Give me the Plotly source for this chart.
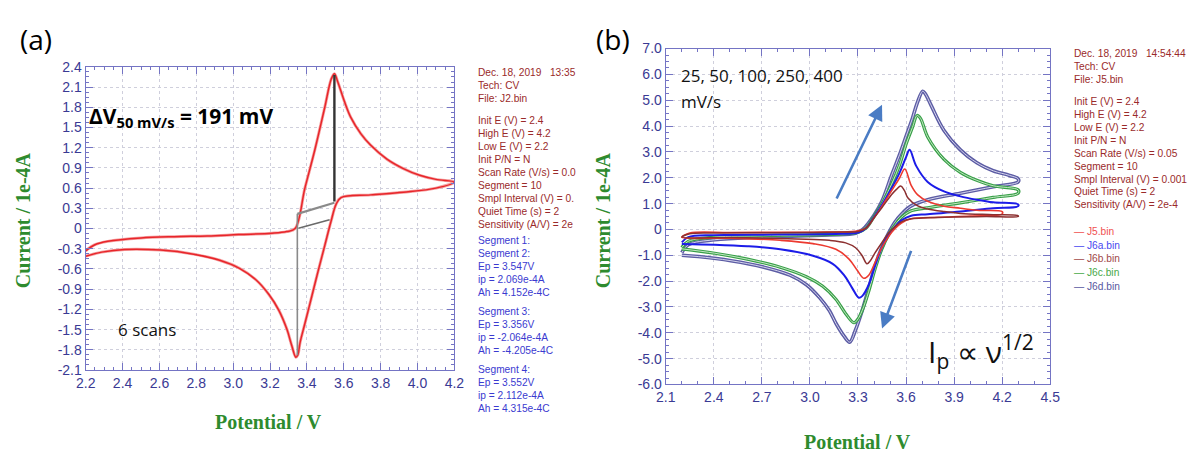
import plotly.graph_objects as go

W, H = 1190, 462

# ---------------- data: panel (a) ----------------
cv_a_v = [2.2, 2.25, 2.32, 2.5, 2.68, 2.86, 3.03, 3.21, 3.29, 3.336, 3.389, 3.443, 3.496, 3.532, 3.549,
          3.567, 3.603, 3.638, 3.692, 3.745, 3.834, 3.923, 4.012, 4.1, 4.2,
          4.1, 3.923, 3.745, 3.585, 3.558, 3.532, 3.496, 3.46, 3.425, 3.389, 3.363, 3.35, 3.34, 3.318,
          3.292, 3.247, 3.194, 3.123, 3.034, 2.927, 2.785, 2.607, 2.412, 2.287, 2.2]
cv_a_i = [-0.33, -0.24, -0.19, -0.14, -0.12, -0.11, -0.09, -0.07, -0.045, 0.0, 0.60, 1.17, 1.79, 2.22, 2.30,
          2.18, 1.89, 1.65, 1.41, 1.24, 1.03, 0.89, 0.79, 0.73, 0.69,
          0.60, 0.54, 0.50, 0.46, 0.36, 0.12, -0.26, -0.64, -1.02, -1.41, -1.69, -1.88, -1.91, -1.74,
          -1.50, -1.21, -0.98, -0.76, -0.59, -0.47, -0.38, -0.32, -0.31, -0.35, -0.41]

base_upper_v = [3.348, 3.549]
base_upper_i = [0.218, 0.384]
base_lower_v = [3.354, 3.523]
base_lower_i = [0.003, 0.132]
peak_ox_v = [3.549, 3.549]
peak_ox_i = [0.40, 2.28]
peak_red_v = [3.348, 3.348]
peak_red_i = [0.218, -1.88]

a_xticks = [2.2, 2.4, 2.6, 2.8, 3.0, 3.2, 3.4, 3.6, 3.8, 4.0, 4.2]
a_xtext = ["2.2", "2.4", "2.6", "2.8", "3.0", "3.2", "3.4", "3.6", "3.8", "4.0", "4.2"]
a_yticks = [2.4, 2.1, 1.8, 1.5, 1.2, 0.9, 0.6, 0.3, 0, -0.3, -0.6, -0.9, -1.2, -1.5, -1.8, -2.1]
a_ytext = ["2.4", "2.1", "1.8", "1.5", "1.2", "0.9", "0.6", "0.3", "0", "-0.3", "-0.6", "-0.9",
           "-1.2", "-1.5", "-1.8", "-2.1"]

# ---------------- data: panel (b) ----------------
j6b_v = [2.2, 2.25, 2.4, 2.7, 3.0, 3.2, 3.3, 3.35, 3.4, 3.45, 3.51, 3.54, 3.567, 3.59, 3.612, 3.673, 3.735,
         3.837, 3.94, 4.144, 4.3,
         4.3, 4.1, 3.9, 3.735, 3.632, 3.571, 3.53, 3.49, 3.448, 3.407, 3.377, 3.356, 3.326, 3.285, 3.223,
         3.121, 2.916, 2.507, 2.2]
j6b_i = [-0.3, -0.17, -0.14, -0.13, -0.12, -0.1, -0.08, 0.05, 0.45, 0.85, 1.35, 1.55, 1.68, 1.5, 1.22, 0.91,
         0.79, 0.69, 0.62, 0.57, 0.53,
         0.5, 0.5, 0.48, 0.45, 0.41, 0.29, 0.1, -0.15, -0.52, -0.9, -1.21, -1.33, -1.02, -0.71, -0.52,
         -0.42, -0.37, -0.31, -0.3]

j5_v = [2.2, 2.25, 2.5, 2.8, 3.1, 3.28, 3.35, 3.4, 3.45, 3.51, 3.56, 3.592, 3.632, 3.673, 3.735, 3.837,
        3.939, 4.042, 4.2,
        4.2, 4.0, 3.8, 3.632, 3.571, 3.53, 3.49, 3.448, 3.407, 3.367, 3.336, 3.295, 3.244, 3.162, 3.019,
        2.814, 2.507, 2.2]
j5_i = [-0.3, -0.14, -0.12, -0.11, -0.1, -0.07, 0.05, 0.45, 0.9, 1.5, 2.0, 2.34, 1.71, 1.34, 1.09, 0.9,
        0.82, 0.74, 0.69,
        0.6, 0.52, 0.47, 0.41, 0.25, 0.03, -0.28, -0.71, -1.27, -1.77, -1.89, -1.58, -1.15, -0.77, -0.55,
        -0.42, -0.34, -0.3]

j6a_v = [2.2, 2.24, 2.4, 2.8, 3.2, 3.3, 3.35, 3.4, 3.45, 3.51, 3.56, 3.6, 3.622, 3.663, 3.735, 3.837,
         3.939, 4.042, 4.144, 4.3,
         4.3, 4.144, 3.939, 3.735, 3.632, 3.571, 3.53, 3.49, 3.448, 3.407, 3.367, 3.326, 3.305, 3.264,
         3.213, 3.142, 3.019, 2.814, 2.609, 2.405, 2.2]
j6a_i = [-0.5, -0.3, -0.22, -0.2, -0.17, -0.12, 0.05, 0.48, 0.95, 1.6, 2.2, 2.8, 3.08, 2.46, 1.84, 1.47,
         1.28, 1.15, 1.05, 0.97,
         0.9, 0.82, 0.69, 0.59, 0.53, 0.35, 0.1, -0.21, -0.71, -1.4, -2.14, -2.58, -2.64, -2.27,
         -1.77, -1.33, -1.02, -0.77, -0.65, -0.59, -0.56]

j6c_v = [2.2, 2.24, 2.405, 2.712, 3.121, 3.3, 3.35, 3.4, 3.45, 3.51, 3.56, 3.6, 3.64, 3.669, 3.69,
         3.735, 3.837, 3.939, 4.042, 4.144, 4.3,
         4.3, 4.144, 3.939, 3.735, 3.632, 3.571, 3.53, 3.49, 3.448, 3.407, 3.367, 3.326, 3.295, 3.274,
         3.223, 3.162, 3.08, 2.978, 2.814, 2.609, 2.405, 2.2]
j6c_i = [-0.7, -0.46, -0.30, -0.24, -0.19, -0.11, 0.05, 0.5, 1.0, 1.75, 2.5, 3.3, 3.95, 4.41, 4.3,
         3.58, 2.71, 2.21, 1.9, 1.69, 1.53,
         1.4, 1.24, 1.03, 0.84, 0.72, 0.47, 0.16, -0.21, -0.77, -1.52, -2.39, -3.14, -3.51, -3.61,
         -3.26, -2.7, -2.2, -1.83, -1.46, -1.15, -0.92, -0.75]

j6d_v = [2.2, 2.241, 2.405, 2.712, 3.121, 3.285, 3.33, 3.4, 3.45, 3.51, 3.56, 3.6, 3.64, 3.67, 3.704,
         3.72, 3.755, 3.837, 3.939, 4.042, 4.144, 4.246, 4.3,
         4.3, 4.144, 3.939, 3.735, 3.632, 3.571, 3.53, 3.49, 3.448, 3.407, 3.367, 3.326, 3.285, 3.248,
         3.213, 3.162, 3.121, 3.06, 2.978, 2.875, 2.712, 2.507, 2.303, 2.2]
j6d_i = [-0.9, -0.59, -0.40, -0.30, -0.21, -0.15, 0.0, 0.55, 1.1, 2.1, 2.9, 3.6, 4.3, 4.9, 5.35,
         5.25, 4.82, 3.83, 3.08, 2.58, 2.27, 2.09, 1.96,
         1.84, 1.65, 1.40, 1.15, 0.91, 0.59, 0.28, -0.15, -0.71, -1.40, -2.27, -3.14, -3.88, -4.36,
         -4.13, -3.63, -3.14, -2.64, -2.14, -1.77, -1.46, -1.21, -1.05, -1.0]

b_xticks = [2.1, 2.4, 2.7, 3.0, 3.3, 3.6, 3.9, 4.2, 4.5]
b_xtext = ["2.1", "2.4", "2.7", "3.0", "3.3", "3.6", "3.9", "4.2", "4.5"]
b_yticks = [7, 6, 5, 4, 3, 2, 1, 0, -1, -2, -3, -4, -5, -6]
b_ytext = ["7.0", "6.0", "5.0", "4.0", "3.0", "2.0", "1.0", "0", "-1.0", "-2.0", "-3.0", "-4.0",
           "-5.0", "-6.0"]

info_a_red = ["Dec. 18, 2019   13:35", "Tech: CV", "File: J2.bin", "", "Init E (V) = 2.4", "High E (V) = 4.2",
              "Low E (V) = 2.2", "Init P/N = N", "Scan Rate (V/s) = 0.0", "Segment = 10",
              "Smpl Interval (V) = 0.", "Quiet Time (s) = 2", "Sensitivity (A/V) = 2e"]
info_a_blue = [["Segment 1:", "Segment 2:", "Ep = 3.547V", "ip = 2.069e-4A", "Ah = 4.152e-4C"],
               ["Segment 3:", "Ep = 3.356V", "ip = -2.064e-4A", "Ah = -4.205e-4C"],
               ["Segment 4:", "Ep = 3.552V", "ip = 2.112e-4A", "Ah = 4.315e-4C"]]
info_b_red = ["Dec. 18, 2019   14:54:44", "Tech: CV", "File: J5.bin", "", "Init E (V) = 2.4", "High E (V) = 4.2",
              "Low E (V) = 2.2", "Init P/N = N", "Scan Rate (V/s) = 0.05", "Segment = 10",
              "Smpl Interval (V) = 0.001", "Quiet Time (s) = 2", "Sensitivity (A/V) = 2e-4"]
legend_names = ["J5.bin", "J6a.bin", "J6b.bin", "J6c.bin", "J6d.bin"]
legend_colors = ["#f05050", "#4848f0", "#a04848", "#48a848", "#5858a0"]

# ---------------- figure ----------------
fig = go.Figure()

RED = "#e8252a"
fig.add_trace(go.Scatter(x=cv_a_v, y=cv_a_i, mode="lines", line=dict(color="#f4a0a0", width=3.0, shape="spline"),
                         xaxis="x", yaxis="y", showlegend=False, hoverinfo="skip"))
fig.add_trace(go.Scatter(x=cv_a_v, y=cv_a_i, mode="lines", line=dict(color=RED, width=1.5, shape="spline"),
                         xaxis="x", yaxis="y", showlegend=False))
for vv, ii, col, wd in [(base_upper_v, base_upper_i, "#8a8a8a", 2.2), (base_lower_v, base_lower_i, "#6a6a6a", 1.6),
                        (peak_ox_v, peak_ox_i, "#333333", 2.4), (peak_red_v, peak_red_i, "#8a8a8a", 1.6)]:
    fig.add_trace(go.Scatter(x=vv, y=ii, mode="lines", line=dict(color=col, width=wd),
                             xaxis="x", yaxis="y", showlegend=False))

curves_b = [
    (j6d_v, j6d_i, "#5c5ca4", 3.6, "#d4d4ec"),
    (j6c_v, j6c_i, "#38a048", 3.2, "#c4e6c4"),
    (j6a_v, j6a_i, "#1c1ce8", 2.0, None),
    (j5_v, j5_i, "#ec3a30", 1.6, None),
    (j6b_v, j6b_i, "#8c3030", 1.5, None),
]
for vv, ii, col, wd, inner in curves_b:
    fig.add_trace(go.Scatter(x=vv, y=ii, mode="lines", line=dict(color=col, width=wd, shape="spline"),
                             xaxis="x2", yaxis="y2", showlegend=False))
    if inner:
        fig.add_trace(go.Scatter(x=vv, y=ii, mode="lines", line=dict(color=inner, width=1.0, shape="spline"),
                                 xaxis="x2", yaxis="y2", showlegend=False, hoverinfo="skip"))

AXC = "#7474c4"
TICKF = dict(family="Liberation Sans Narrow, Arial Narrow, Liberation Sans, Arial", size=14, color="#3a3a94")


def ax(domain, rng, tv, tt, minor_dtick, minor_t0, anchor):
    return dict(domain=domain, range=rng, anchor=anchor, tickmode="array", tickvals=tv, ticktext=tt,
                showline=True, linecolor=AXC, linewidth=1.3, mirror="ticks", ticks="inside", ticklen=7,
                tickcolor=AXC, tickwidth=1, showgrid=True, gridcolor="#cfcfdc", griddash="dot",
                gridwidth=1, zeroline=False, tickfont=TICKF,
                minor=dict(ticks="inside", ticklen=3, tickcolor=AXC, dtick=minor_dtick, tick0=minor_t0,
                           showgrid=False))


fig.update_layout(
    width=W, height=H, margin=dict(l=0, r=0, t=0, b=0), paper_bgcolor="white", plot_bgcolor="white",
    xaxis=ax([77 / W, 452 / W], [2.2, 4.2], a_xticks, a_xtext, 0.05, 2.2, "y"),
    yaxis=ax([1 - 375 / H, 1 - 61 / H], [-2.1, 2.4], a_yticks, a_ytext, 0.075, -2.1, "x"),
    xaxis2=ax([667 / W, 1058 / W], [2.1, 4.5], b_xticks, b_xtext, 0.1, 2.1, "y2"),
    yaxis2=ax([1 - 390 / H, 1 - 42 / H], [-6, 7], b_yticks, b_ytext, 0.25, -6, "x2"),
)

ann = []


def txt(px, py, s, size, color="black", family="Open Sans, Noto Sans", xanchor="left", angle=0):
    ann.append(dict(xref="paper", yref="paper", x=px / W, y=1 - py / H, text=s, showarrow=False,
                    xanchor=xanchor, yanchor="middle", textangle=angle,
                    font=dict(size=size, color=color, family=family)))


TITLEF = "Liberation Serif, Times New Roman, serif"
GREEN = "#2e8b2e"
txt(8, 32, "(a)", 28)
txt(594, 32, "(b)", 28)
txt(14, 220, "<b>Current / 1e-4A</b>", 20, GREEN, TITLEF, "center", -90)
txt(263, 429, "<b>Potential / V</b>", 20, GREEN, TITLEF, "center")
txt(604, 220, "<b>Current / 1e-4A</b>", 20, GREEN, TITLEF, "center", -90)
txt(862, 450, "<b>Potential / V</b>", 20, GREEN, TITLEF, "center")
txt(78, 113, "<b>ΔV<sub>50 mV/s</sub> = 191 mV</b>", 21, "black", "Open Sans, Noto Sans")
txt(108, 333, "6 scans", 17, "#111111")
txt(680, 70, "25, 50, 100, 250, 400", 17, "#111111")
txt(680, 97, "mV/s", 17, "#111111")
txt(932, 356, "I<sub>p</sub> ∝ ν<sup>1/2</sup>", 30, "#111111")

SIDEF = "Liberation Sans, Arial"
SIDES = 10.2
DRED = "#9a2a2a"
BLUE = "#3a3ad0"
y0 = 67
for k, s in enumerate(info_a_red):
    if s:
        txt(474, y0 + k * 13.4 - (0 if k < 3 else 3.8), s, SIDES, DRED, SIDEF)
yb = 241
for grp in info_a_blue:
    for s in grp:
        txt(474, yb, s, SIDES, BLUE, SIDEF)
        yb += 13.5
    yb += 6
y0 = 47
for k, s in enumerate(info_b_red):
    if s:
        txt(1080, y0 + k * 13.4 - (0 if k < 3 else 3.8), s, SIDES, DRED, SIDEF)
for k, (s, c) in enumerate(zip(legend_names, legend_colors)):
    txt(1080, 232 + k * 14, "— " + s, SIDES, c, SIDEF)

# arrows in panel (b)
arrow_up = dict(tail=(3.162, 1.14), head=(3.45, 4.83))
arrow_dn = dict(tail=(3.635, -0.77), head=(3.45, -3.83))
for a in (arrow_up, arrow_dn):
    ann.append(dict(xref="x2", yref="y2", axref="x2", ayref="y2", x=a["head"][0], y=a["head"][1],
                    ax=a["tail"][0], ay=a["tail"][1], showarrow=True, arrowhead=2, arrowsize=1.2,
                    arrowwidth=2.6, arrowcolor="#4a7cc4", text=""))

fig.update_layout(annotations=ann)
fig.write_html("out.html")
